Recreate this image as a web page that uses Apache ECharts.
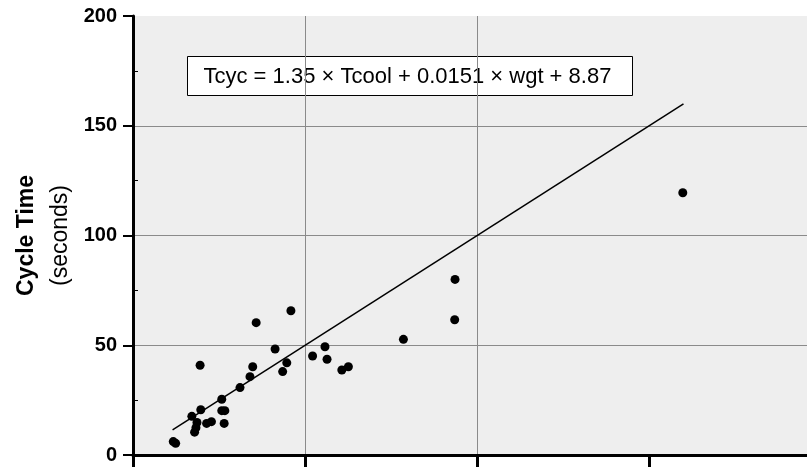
<!DOCTYPE html>
<html>
<head>
<meta charset="utf-8">
<script src="https://cdn.jsdelivr.net/npm/echarts/dist/echarts.min.js"></script>
<style>
html,body{margin:0;padding:0;background:#fff;}
#chart{width:807px;height:467px;}
</style>
</head>
<body>
<div id="chart"></div>
<script>
// Predicted cycle time (x) vs observed cycle time (y), seconds
var predicted = [11.7, 12.4, 17.1, 18.6, 18.3, 17.9, 19.5, 19.7, 21.4, 22.8, 25.8, 25.8, 26.7, 26.5, 31.1, 34.0, 34.8, 35.8, 41.3, 43.5, 44.7, 45.9, 52.2, 55.8, 56.4, 60.7, 62.6, 78.6, 93.6, 93.5, 159.8];
var observed  = [6.1, 5.3, 17.6, 14.8, 12.4, 10.4, 40.9, 20.6, 14.4, 15.2, 25.4, 20.2, 20.2, 14.4, 30.7, 35.7, 40.2, 60.3, 48.3, 38.0, 42.0, 65.7, 45.1, 49.3, 43.6, 38.7, 40.2, 52.7, 80.0, 61.6, 119.5];
var fitLineX = [11.5, 160];
var xTicks = [0, 50, 100, 150];
var yTicks = [0, 50, 100, 150, 200];
var yMinorTicks = [25, 75, 125, 175];
var equationText = 'Tcyc = 1.35 \u00d7 Tcool + 0.0151 \u00d7 wgt + 8.87';
var yTitle = 'Cycle Time';
var yUnit = '(seconds)';

var points = predicted.map(function (p, i) { return [p, observed[i]]; });
var fitLine = fitLineX.map(function (v) { return [v, v]; });

var chart = echarts.init(document.getElementById('chart'), null, {renderer: 'canvas'});
var font = 'Liberation Sans, Arial, Helvetica, sans-serif';

chart.setOption({
  animation: false,
  textStyle: {fontFamily: font},
  grid: {left: 133, top: 16, right: 0, bottom: 12, show: true, backgroundColor: '#eeeeee', borderWidth: 0},
  xAxis: [{
    type: 'value', min: 0, max: 195.9, interval: 50,
    axisLine: {show: true, onZero: false, lineStyle: {color: '#000', width: 3}},
    axisTick: {show: true, length: 13, customValues: xTicks, lineStyle: {color: '#000', width: 3}},
    axisLabel: {show: false},
    splitLine: {show: true, showMinLine: false, showMaxLine: false, lineStyle: {color: '#8a8a8a', width: 1}}
  }, {
    type: 'value', position: 'top', min: 0, max: 195.9, interval: 50,
    axisLine: {show: true, lineStyle: {color: '#000', width: 2}},
    axisTick: {show: false}, axisLabel: {show: false}, splitLine: {show: false}
  }],
  yAxis: [{
    type: 'value', min: 0, max: 200, interval: 50,
    axisLine: {show: true, onZero: false, lineStyle: {color: '#000', width: 3}},
    axisTick: {show: true, length: 10, lineStyle: {color: '#000', width: 2}},
    axisLabel: {
      show: true, margin: 16, color: '#000', fontWeight: 'bold', fontSize: 20, fontFamily: font,
      formatter: function (v) { return yTicks.indexOf(v) >= 0 ? String(v) : ''; }
    },
    splitLine: {show: true, showMinLine: false, showMaxLine: false, lineStyle: {color: '#8a8a8a', width: 1}},
    name: '{a|' + yTitle + '}\n{b|' + yUnit + '}',
    nameLocation: 'middle', nameRotate: 90, nameGap: 55,
    nameTextStyle: {
      align: 'center',
      rich: {
        a: {fontSize: 23, fontWeight: 'bold', color: '#000', fontFamily: font, lineHeight: 34},
        b: {fontSize: 23, color: '#000', fontFamily: font, lineHeight: 34}
      }
    }
  }, {
    type: 'value', position: 'left', min: 0, max: 200, interval: 25,
    axisLine: {show: false},
    axisTick: {show: true, inside: true, length: 5, customValues: yMinorTicks, lineStyle: {color: '#000', width: 1}},
    axisLabel: {show: false}, splitLine: {show: false}
  }],
  graphic: [{
    type: 'group', left: 187, top: 56,
    children: [{
      type: 'rect', shape: {x: 0, y: 0, width: 445, height: 39},
      style: {fill: '#fff', stroke: '#000', lineWidth: 1}
    }, {
      type: 'text', x: 16, y: 20,
      style: {text: equationText, fontSize: 22, fontFamily: font, fill: '#000', verticalAlign: 'middle'}
    }]
  }],
  series: [{
    type: 'line', data: fitLine, symbol: 'none',
    lineStyle: {color: '#000', width: 1.5}, z: 3
  }, {
    type: 'scatter', data: points, symbol: 'circle', symbolSize: 9,
    itemStyle: {color: '#000', opacity: 1}, z: 4
  }]
});
</script>
</body>
</html>
